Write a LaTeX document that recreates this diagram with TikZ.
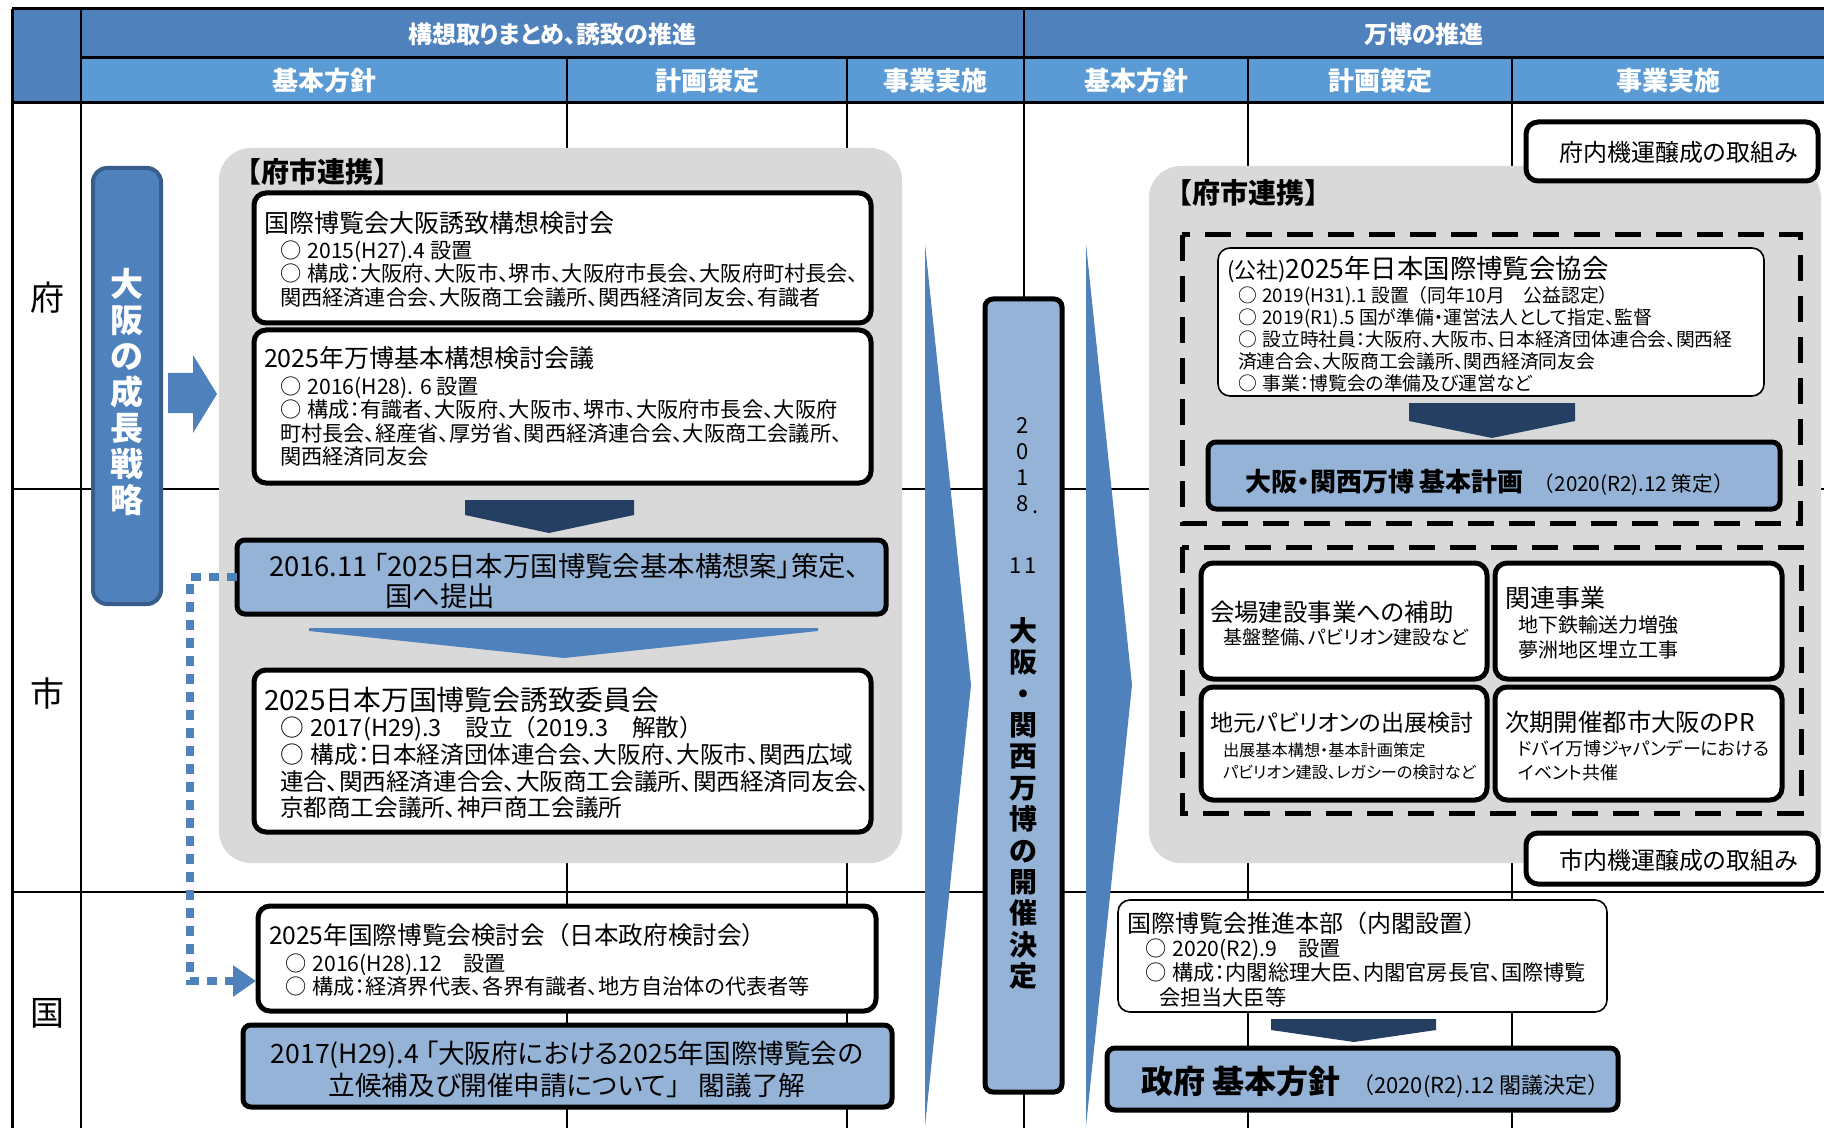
\documentclass[tikz,border=0pt]{standalone}
\usepackage{fontspec}
\setmainfont{Noto Sans CJK JP}[RawFeature={+palt}]
\newfontfamily\jpn{Noto Sans CJK JP}
\usetikzlibrary{arrows.meta,fit}
\definecolor{hdrA}{HTML}{4F81BD}
\definecolor{hdrB}{HTML}{5B9BD5}
\definecolor{lblue}{HTML}{95B3D7}
\definecolor{mblue}{HTML}{4F81BD}
\definecolor{navy}{HTML}{253F63}
\definecolor{panelgray}{HTML}{D9D9D9}
\definecolor{bdark}{HTML}{385D8A}
\newcommand\myfs[2]{\fontsize{#1}{#2}\selectfont}
\newcommand\mk{○\hspace{0.3em}}
\newcommand\lp{{\jpn （}}
\newcommand\rp{{\jpn ）}}
\begin{document}
\begin{tikzpicture}[x=0.5pt,y=-0.5pt,
  every node/.style={inner sep=0pt,outer sep=0pt},
  wbox/.style={draw=black,line width=2.5pt,fill=white,rounded corners=6pt,inner sep=0pt},
  tbox/.style={draw=black,line width=0.8pt,fill=white,rounded corners=6pt,inner sep=0pt},
  bbox/.style={draw=black,line width=2.5pt,fill=lblue,rounded corners=4pt,inner sep=0pt},
  panelbox/.style={fill=panelgray,rounded corners=16pt,inner sep=0pt},
  dbox/.style={draw=black,line width=2.5pt,dash pattern=on 13pt off 7.5pt},
  lt/.style={anchor=west,align=left},
  blk/.style={anchor=north west,align=left},
  gridline/.style={line width=0.6pt,draw=black},
  hdrtxt/.style={text=white,font=\bfseries\myfs{12}{14}},
  subtxt/.style={text=white,font=\bfseries\myfs{13}{15}},
  rowtxt/.style={font=\myfs{17}{19}},
  ttl/.style={anchor=west,font=\myfs{12.5}{15}},
  bodyA/.style={blk,font=\myfs{10.6}{11.8}},
]
\useasboundingbox (0,0) rectangle (1824,1128);
\fill[white] (0,0) rectangle (1824,1128);
% ---------- header ----------
\fill[hdrA] (12,9) rectangle (1824,58);
\fill[hdrB] (81,58) rectangle (1824,103);
\fill[hdrA] (12,9) rectangle (81,103);
\draw[line width=1.5pt] (12,9) -- (1824,9);
\draw[line width=1.5pt] (81,58) -- (1824,58);
\draw[line width=1.5pt] (12,103) -- (1824,103);
\draw[gridline] (1024,9) -- (1024,1128);
\foreach \xx in {567,847,1248,1512} {\draw[gridline] (\xx,58) -- (\xx,1128);}
\draw[line width=1.2pt] (81,9) -- (81,1128);
\draw[line width=1.5pt] (12,9) -- (12,1128);
\draw[gridline] (12,489) -- (1824,489);
\draw[gridline] (12,892) -- (1824,892);
\node[hdrtxt] (h1) at (552,34) {構想取りまとめ、誘致の推進};
\node[hdrtxt] (h2) at (1424,34) {万博の推進};
\node[subtxt] (s1) at (324,81) {基本方針};
\node[subtxt] (s2) at (707,81) {計画策定};
\node[subtxt] (s3) at (935,81) {事業実施};
\node[subtxt] (s4) at (1136,81) {基本方針};
\node[subtxt] (s5) at (1380,81) {計画策定};
\node[subtxt] (s6) at (1668,81) {事業実施};
\node[rowtxt] (r1) at (47,298) {府};
\node[rowtxt] (r2) at (47,694) {市};
\node[rowtxt] (r3) at (47,1013) {国};
% ---------- growth strategy ----------
\node[fit={(93,168) (161,604)},fill=mblue,draw=bdark,line width=2pt,rounded corners=7pt,inner sep=0pt] (grow) {};
\node[text=white,font=\bfseries\myfs{16.5}{18},align=center] (growt) at (127,392) {大\\阪\\の\\成\\長\\戦\\略};
\fill[mblue] (168,373) -- (193,373) -- (193,355) -- (217,394) -- (193,433) -- (193,413) -- (168,413) -- cycle;
% ---------- left panel ----------
\node[panelbox,fit={(219,148) (902,863)}] (lp) {};
\node[lt,font=\bfseries\myfs{14}{17}\jpn] (lpt) at (233,172) {【府市連携】};
\node[wbox,fit={(254,193) (871,323)}] (b1) {};
\node[ttl] (b1t) at (264,223) {国際博覧会大阪誘致構想検討会};
\node[bodyA] (b1b) at (280,240.5) {\mk 2015(H27).4 設置\\\mk 構成：大阪府、大阪市、堺市、大阪府市長会、大阪府町村長会、\\関西経済連合会、大阪商工会議所、関西経済同友会、有識者};
\node[wbox,fit={(254,330) (871,483)}] (b2) {};
\node[ttl] (b2t) at (264,358) {2025年万博基本構想検討会議};
\node[bodyA] (b2b) at (280,376.5) {\mk 2016(H28). 6 設置\\\mk 構成：有識者、大阪府、大阪市、堺市、大阪府市長会、大阪府\\町村長会、経産省、厚労省、関西経済連合会、大阪商工会議所、\\関西経済同友会};
\fill[navy] (465,500) -- (634,500) -- (634,515) -- (549,533) -- (465,515) -- cycle;
\node[bbox,fit={(237,540) (886,614)}] (b8) {};
\node[blk,font=\myfs{13.7}{15}] (b8t) at (269,553) {2016.11 「2025日本万国博覧会基本構想案」策定、\\\hspace*{58pt}国へ提出};
\fill[mblue] (309,628) -- (818,628) -- (818,631) -- (564,658) -- (309,631) -- cycle;
\node[wbox,fit={(254,670) (871,832)}] (b3) {};
\node[anchor=west,font=\myfs{13.9}{16}] (b3t) at (264,700) {2025日本万国博覧会誘致委員会};
\node[blk,font=\myfs{11.8}{13.35}] (b3b) at (280,716.5) {\mk 2017(H29).3　設立\lp 2019.3　解散\rp\\\mk 構成：日本経済団体連合会、大阪府、大阪市、関西広域\\連合、関西経済連合会、大阪商工会議所、関西経済同友会、\\京都商工会議所、神戸商工会議所};
% ---------- national ----------
\node[wbox,fit={(258,906) (876,1011)}] (b12) {};
\node[anchor=west,font=\myfs{12.3}{15}] (b12t) at (269,935) {2025年国際博覧会検討会\lp 日本政府検討会\rp};
\node[bodyA] (b12b) at (285,953.5) {\mk 2016(H28).12　設置\\\mk 構成：経済界代表、各界有識者、地方自治体の代表者等};
\node[bbox,fit={(243,1025) (892,1107)}] (b13) {};
\node[align=center,font=\myfs{13.3}{16}] (b13t) at (567,1069) {2017(H29).4 「大阪府における2025年国際博覧会の\\立候補及び開催申請について{\jpn 」} 閣議了解};
\coordinate (dotA) at (190,577);
\coordinate (dotB) at (190,981);
\coordinate (dotC) at (256,981);
\draw[mblue,line width=4pt,dash pattern=on 5pt off 4pt,-{Triangle[length=11.5pt,width=15pt]}] (b8.west) -- (dotA) -- (dotB) -- (dotC);
% ---------- transition ----------
\fill[mblue] (925,244) -- (971,685) -- (925,1126) -- cycle;
\fill[mblue] (1086,244) -- (1132,685) -- (1086,1126) -- cycle;
\node[bbox,fit={(985,299) (1062,1092)}] (dec) {};
\node[align=center,font=\myfs{11}{13}] (decd) at (1023,464.5) {2\\0\\1\\8};
\node[font=\myfs{11}{13}] (decp) at (1036,512) {.};
\node[font=\myfs{11}{13}] (decm) at (1023,566) {1\hspace{1.5pt}1};
\node[align=center,font=\bfseries\myfs{14}{15.7}] (dect) at (1023,803.5) {大\\阪\\・\\関\\西\\万\\博\\の\\開\\催\\決\\定};
% ---------- right panel ----------
\node[panelbox,fit={(1149,166) (1821,863)}] (rp) {};
\node[wbox,fit={(1526,122) (1818,181)}] (fu) {};
\node[lt,font=\myfs{12}{14}] (fut) at (1559,152) {府内機運醸成の取組み};
\node[lt,font=\bfseries\myfs{14}{17}\jpn] (rpt) at (1164,193) {【府市連携】};
\draw[dbox] (1182,235) rectangle (1800,523);
\node[tbox,fit={(1218,248) (1764,396)}] (kk) {};
\node[lt] (kkt) at (1227,270) {{\myfs{11}{13}(公社)}{\myfs{13.2}{16}2025年日本国際博覧会協会}};
\node[blk,font=\myfs{9.4}{11}] (kkb) at (1238,286.5) {\mk 2019(H31).1 設置\lp 同年10月　公益認定\rp\\\mk 2019(R1).5 国が準備・運営法人として指定、監督\\\mk 設立時社員：大阪府、大阪市、日本経済団体連合会、関西経\\済連合会、大阪商工会議所、関西経済同友会\\\mk 事業：博覧会の準備及び運営など};
\fill[navy] (1409,403) -- (1575,403) -- (1575,421) -- (1492,438) -- (1409,421) -- cycle;
\node[bbox,fit={(1208,442) (1780,509)}] (kp) {};
\node[lt] (kpt) at (1245,482) {{\bfseries\myfs{13}{15}大阪・関西万博 基本計画}\hspace{5pt}{\myfs{10.3}{12}\lp 2020(R2).12 策定\rp}};
\draw[dbox] (1182,547) rectangle (1801,813);
\node[wbox,fit={(1201,563) (1487,679)}] (qa) {};
\node[anchor=west,font=\myfs{12.2}{15}] (qat) at (1210,612) {会場建設事業への補助};
\node[lt,font=\myfs{9.5}{12}] (qab) at (1223,637) {基盤整備、パビリオン建設など};
\node[wbox,fit={(1495,563) (1782,679)}] (qb) {};
\node[ttl] (qbt) at (1505,598) {関連事業};
\node[blk,font=\myfs{10}{12.5}] (qbb) at (1518,616) {地下鉄輸送力増強\\夢洲地区埋立工事};
\node[wbox,fit={(1201,687) (1487,800)}] (qc) {};
\node[anchor=west,font=\myfs{11.5}{14}] (qct) at (1210,723) {地元パビリオンの出展検討};
\node[blk,font=\myfs{8.1}{10.8}] (qcb) at (1223,743) {出展基本構想・基本計画策定\\パビリオン建設、レガシーの検討など};
\node[wbox,fit={(1495,687) (1782,800)}] (qd) {};
\node[anchor=west,font=\myfs{12.2}{15}] (qdt) at (1505,722) {次期開催都市大阪のPR};
\node[blk,font=\myfs{9}{12}] (qdb) at (1518,740) {ドバイ万博ジャパンデーにおける\\イベント共催};
\node[wbox,fit={(1526,833) (1818,884)}] (si) {};
\node[lt,font=\myfs{12}{14}] (sit) at (1559,860) {市内機運醸成の取組み};
% ---------- national right ----------
\node[tbox,fit={(1118,900) (1607,1012)}] (hq) {};
\node[anchor=west,font=\myfs{12}{14}] (hqt) at (1127,923) {国際博覧会推進本部\lp 内閣設置\rp};
\node[blk,font=\myfs{10.6}{12.25}] (hqb) at (1145,938.5) {\mk 2020(R2).9　設置\\\mk 構成：内閣総理大臣、内閣官房長官、国際博覧\\\hspace*{7pt}会担当大臣等};
\fill[navy] (1271,1019) -- (1436,1019) -- (1436,1030) -- (1354,1042) -- (1271,1030) -- cycle;
\node[bbox,fit={(1107,1048) (1618,1110)}] (gv) {};
\node[lt] (gvt) at (1141,1082) {{\bfseries\myfs{16}{18}政府 基本方針}\hspace{6pt}{\myfs{11}{12}\lp 2020(R2).12 閣議決定\rp}};
\end{tikzpicture}
\end{document}
